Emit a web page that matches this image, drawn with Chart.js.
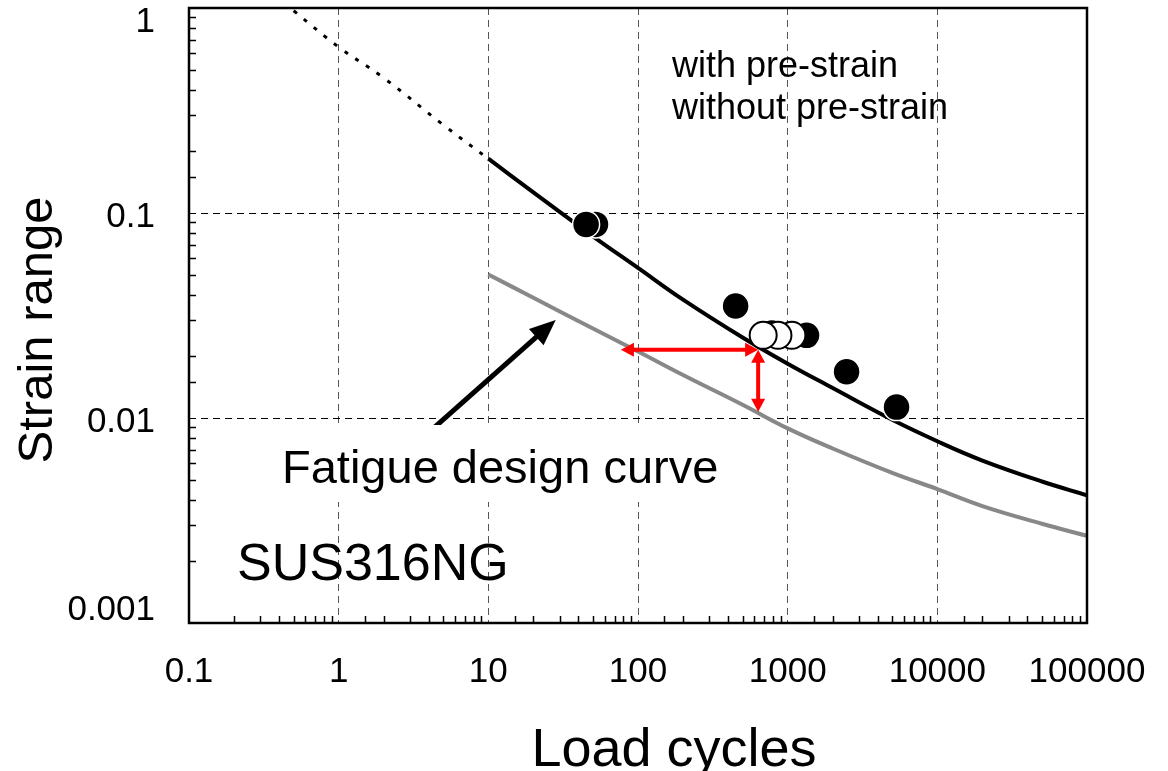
<!DOCTYPE html>
<html>
<head>
<meta charset="utf-8">
<script src="https://cdn.jsdelivr.net/npm/chart.js@4.4.0/dist/chart.umd.min.js"></script>
<style>
  html, body { margin: 0; padding: 0; background: #fff; }
</style>
</head>
<body>
<canvas id="fatigue" width="1168" height="771"></canvas>
<script>
// values: load cycles (x) vs strain range (y)
const curveCycles = [10, 20, 50, 100, 200, 500, 1000, 2000, 5000, 10000, 20000, 50000, 100000];
const fitStrain = [0.184, 0.126, 0.077, 0.054, 0.0378, 0.0247, 0.0184, 0.0140, 0.0098, 0.0077, 0.0062, 0.0049, 0.0042];
const designStrain = [0.0501, 0.0386, 0.0273, 0.0211, 0.0162, 0.0116, 0.0089, 0.0071, 0.0054, 0.0045, 0.00372, 0.00305, 0.00266];

const extrapCycles = [0.5, 1, 2, 5, 10];
const extrapStrain = [0.97, 0.645, 0.456, 0.269, 0.184];

const withPreCycles = [5339, 2475, 1337, 784, 449, 52, 45];
const withPreStrain = [0.0113, 0.0168, 0.0253, 0.026, 0.0352, 0.088, 0.088];
const withoutPreCycles = [1067, 861, 686];
const withoutPreStrain = [0.0253, 0.0253, 0.0253];

const seriesLabels = ['with pre-strain', 'without pre-strain'];
const xTicks = [0.1, 1, 10, 100, 1000, 10000, 100000];
const yTicks = [0.001, 0.01, 0.1, 1];

// annotation arrows, in data coordinates [from, to]
const pointerArrow = [[4.0, 0.0085], [28.2, 0.0301]];
const lifeArrow = [[635, 0.0215], [76.9, 0.0215]];
const strainArrow = [[635, 0.0215], [635, 0.01073]];

const FONT = '"Liberation Sans", Arial, sans-serif';

function pts(xs, ys) {
    return xs.map((x, i) => ({x: x, y: ys[i]}));
}

function isIn(list, v) {
    return list.some(t => Math.abs(v / t - 1) < 1e-6);
}

function head(ctx, x, y, ang, len, half) {
    ctx.beginPath();
    ctx.moveTo(x, y);
    ctx.lineTo(x - len * Math.cos(ang) + half * Math.sin(ang), y - len * Math.sin(ang) - half * Math.cos(ang));
    ctx.lineTo(x - len * Math.cos(ang) - half * Math.sin(ang), y - len * Math.sin(ang) + half * Math.cos(ang));
    ctx.closePath();
    ctx.fill();
}

function arrow(ctx, x1, y1, x2, y2, color, width, len, half, both) {
    const ang = Math.atan2(y2 - y1, x2 - x1);
    const c = Math.cos(ang), s = Math.sin(ang);
    ctx.strokeStyle = color;
    ctx.fillStyle = color;
    ctx.lineWidth = width;
    ctx.beginPath();
    ctx.moveTo(both ? x1 + c * len * 0.8 : x1, both ? y1 + s * len * 0.8 : y1);
    ctx.lineTo(x2 - c * len * 0.8, y2 - s * len * 0.8);
    ctx.stroke();
    head(ctx, x2, y2, ang, len, half);
    if (both) head(ctx, x1, y1, ang + Math.PI, len, half);
}

function noPad(s) {
    s.paddingTop = 0;
    s.paddingBottom = 0;
    s.paddingLeft = 0;
    s.paddingRight = 0;
}

const overlay = {
    id: 'overlay',
    afterDatasetsDraw(chart) {
        const ctx = chart.ctx;
        const sx = chart.scales.x, sy = chart.scales.y;
        const px = v => sx.getPixelForValue(v), py = v => sy.getPixelForValue(v);
        ctx.save();
        arrow(ctx, px(pointerArrow[0][0]), py(pointerArrow[0][1]), px(pointerArrow[1][0]), py(pointerArrow[1][1]), '#000', 5, 26, 11, false);

        // white box under the label hides grid and arrow tail
        ctx.fillStyle = '#fff';
        ctx.fillRect(272, 425, 463, 77);
        ctx.fillStyle = '#000';
        ctx.textAlign = 'left';
        ctx.textBaseline = 'alphabetic';
        ctx.font = '47px ' + FONT;
        ctx.fillText('Fatigue design curve', 282, 483);
        ctx.font = '52px ' + FONT;
        ctx.fillText('SUS316NG', 237, 580);

        arrow(ctx, px(lifeArrow[0][0]), py(lifeArrow[0][1]), px(lifeArrow[1][0]), py(lifeArrow[1][1]), '#ff0000', 4, 13, 7, true);
        arrow(ctx, px(strainArrow[0][0]), py(strainArrow[0][1]), px(strainArrow[1][0]), py(strainArrow[1][1]), '#ff0000', 4, 13, 7, true);

        // legend text
        ctx.fillStyle = '#000';
        ctx.font = '36px ' + FONT;
        ctx.fillText(seriesLabels[0], 672, 77);
        ctx.fillText(seriesLabels[1], 672, 119);
        ctx.restore();
    },
    afterDraw(chart) {
        const ctx = chart.ctx;
        const a = chart.chartArea;
        const sx = chart.scales.x, sy = chart.scales.y;
        ctx.save();
        ctx.strokeStyle = '#000';
        ctx.lineWidth = 1.5;
        ctx.beginPath();
        sx.ticks.forEach(t => {
            if (isIn(xTicks, t.value)) return;
            const x = Math.round(sx.getPixelForValue(t.value)) + 0.5;
            ctx.moveTo(x, a.bottom);
            ctx.lineTo(x, a.bottom - 7);
        });
        sy.ticks.forEach(t => {
            if (isIn(yTicks, t.value)) return;
            const y = Math.round(sy.getPixelForValue(t.value)) + 0.5;
            ctx.moveTo(a.left, y);
            ctx.lineTo(a.left + 7, y);
        });
        ctx.stroke();

        ctx.lineWidth = 2.5;
        ctx.strokeRect(a.left, a.top, a.right - a.left, a.bottom - a.top);

        // y tick labels
        ctx.fillStyle = '#000';
        ctx.font = '35px ' + FONT;
        ctx.textAlign = 'right';
        ctx.textBaseline = 'middle';
        yTicks.forEach(v => {
            let y = sy.getPixelForValue(v) + 4;
            y = Math.min(Math.max(y, a.top + 14), a.bottom - 13);
            ctx.fillText(String(v), 155, y);
        });

        // axis titles
        ctx.textAlign = 'center';
        ctx.textBaseline = 'alphabetic';
        ctx.font = '54px ' + FONT;
        ctx.fillText('Load cycles', 674, 766);
        ctx.translate(52, 330);
        ctx.rotate(-Math.PI / 2);
        ctx.font = '49px ' + FONT;
        ctx.fillText('Strain range', 0, 0);
        ctx.restore();
    }
};

const chart = new Chart(document.getElementById('fatigue').getContext('2d'), {
    type: 'scatter',
    data: {
        datasets: [
            {
                label: seriesLabels[1],
                data: pts(withoutPreCycles, withoutPreStrain),
                order: 0,
                pointRadius: 13.5,
                backgroundColor: '#fff',
                borderColor: '#000',
                borderWidth: 2
            },
            {
                label: seriesLabels[0],
                data: pts(withPreCycles, withPreStrain),
                order: 1,
                pointRadius: 13.5,
                backgroundColor: '#000',
                borderColor: '#fff',
                borderWidth: 1.5
            },
            {
                label: 'best fit',
                data: pts(curveCycles, fitStrain),
                order: 2,
                showLine: true,
                pointRadius: 0,
                borderColor: '#000',
                borderWidth: 4,
                tension: 0.4
            },
            {
                label: 'extrapolation',
                data: pts(extrapCycles, extrapStrain),
                order: 3,
                showLine: true,
                pointRadius: 0,
                borderColor: '#000',
                borderWidth: 3,
                borderDash: [4, 9],
                tension: 0.4
            },
            {
                label: 'design curve',
                data: pts(curveCycles, designStrain),
                order: 4,
                showLine: true,
                pointRadius: 0,
                borderColor: '#888',
                borderWidth: 4,
                tension: 0.4
            }
        ]
    },
    options: {
        responsive: false,
        animation: false,
        events: [],
        layout: {
            autoPadding: false,
            padding: {top: 8, right: 81, left: 0, bottom: 0}
        },
        plugins: {
            legend: {display: false},
            tooltip: {enabled: false}
        },
        scales: {
            x: {
                type: 'logarithmic',
                position: 'bottom',
                min: 0.1,
                max: 100000,
                afterFit: s => { s.height = 148; noPad(s); },
                grid: {
                    color: c => (c.tick && isIn(xTicks, c.tick.value)) ? '#555' : 'rgba(0,0,0,0)',
                    lineWidth: 1,
                    drawTicks: false
                },
                border: {display: false, dash: [7, 5]},
                ticks: {
                    autoSkip: false,
                    maxRotation: 0,
                    padding: 28,
                    color: '#000',
                    font: {family: FONT, size: 35},
                    callback: v => isIn(xTicks, v) ? String(v) : ''
                }
            },
            y: {
                type: 'logarithmic',
                min: 0.001,
                max: 1,
                afterFit: s => { s.width = 189; noPad(s); },
                grid: {
                    color: c => (c.tick && isIn(yTicks, c.tick.value)) ? '#000' : 'rgba(0,0,0,0)',
                    lineWidth: 1,
                    drawTicks: false
                },
                border: {display: false, dash: [7, 5]},
                ticks: {display: false}
            }
        }
    },
    plugins: [overlay]
});
</script>
</body>
</html>
